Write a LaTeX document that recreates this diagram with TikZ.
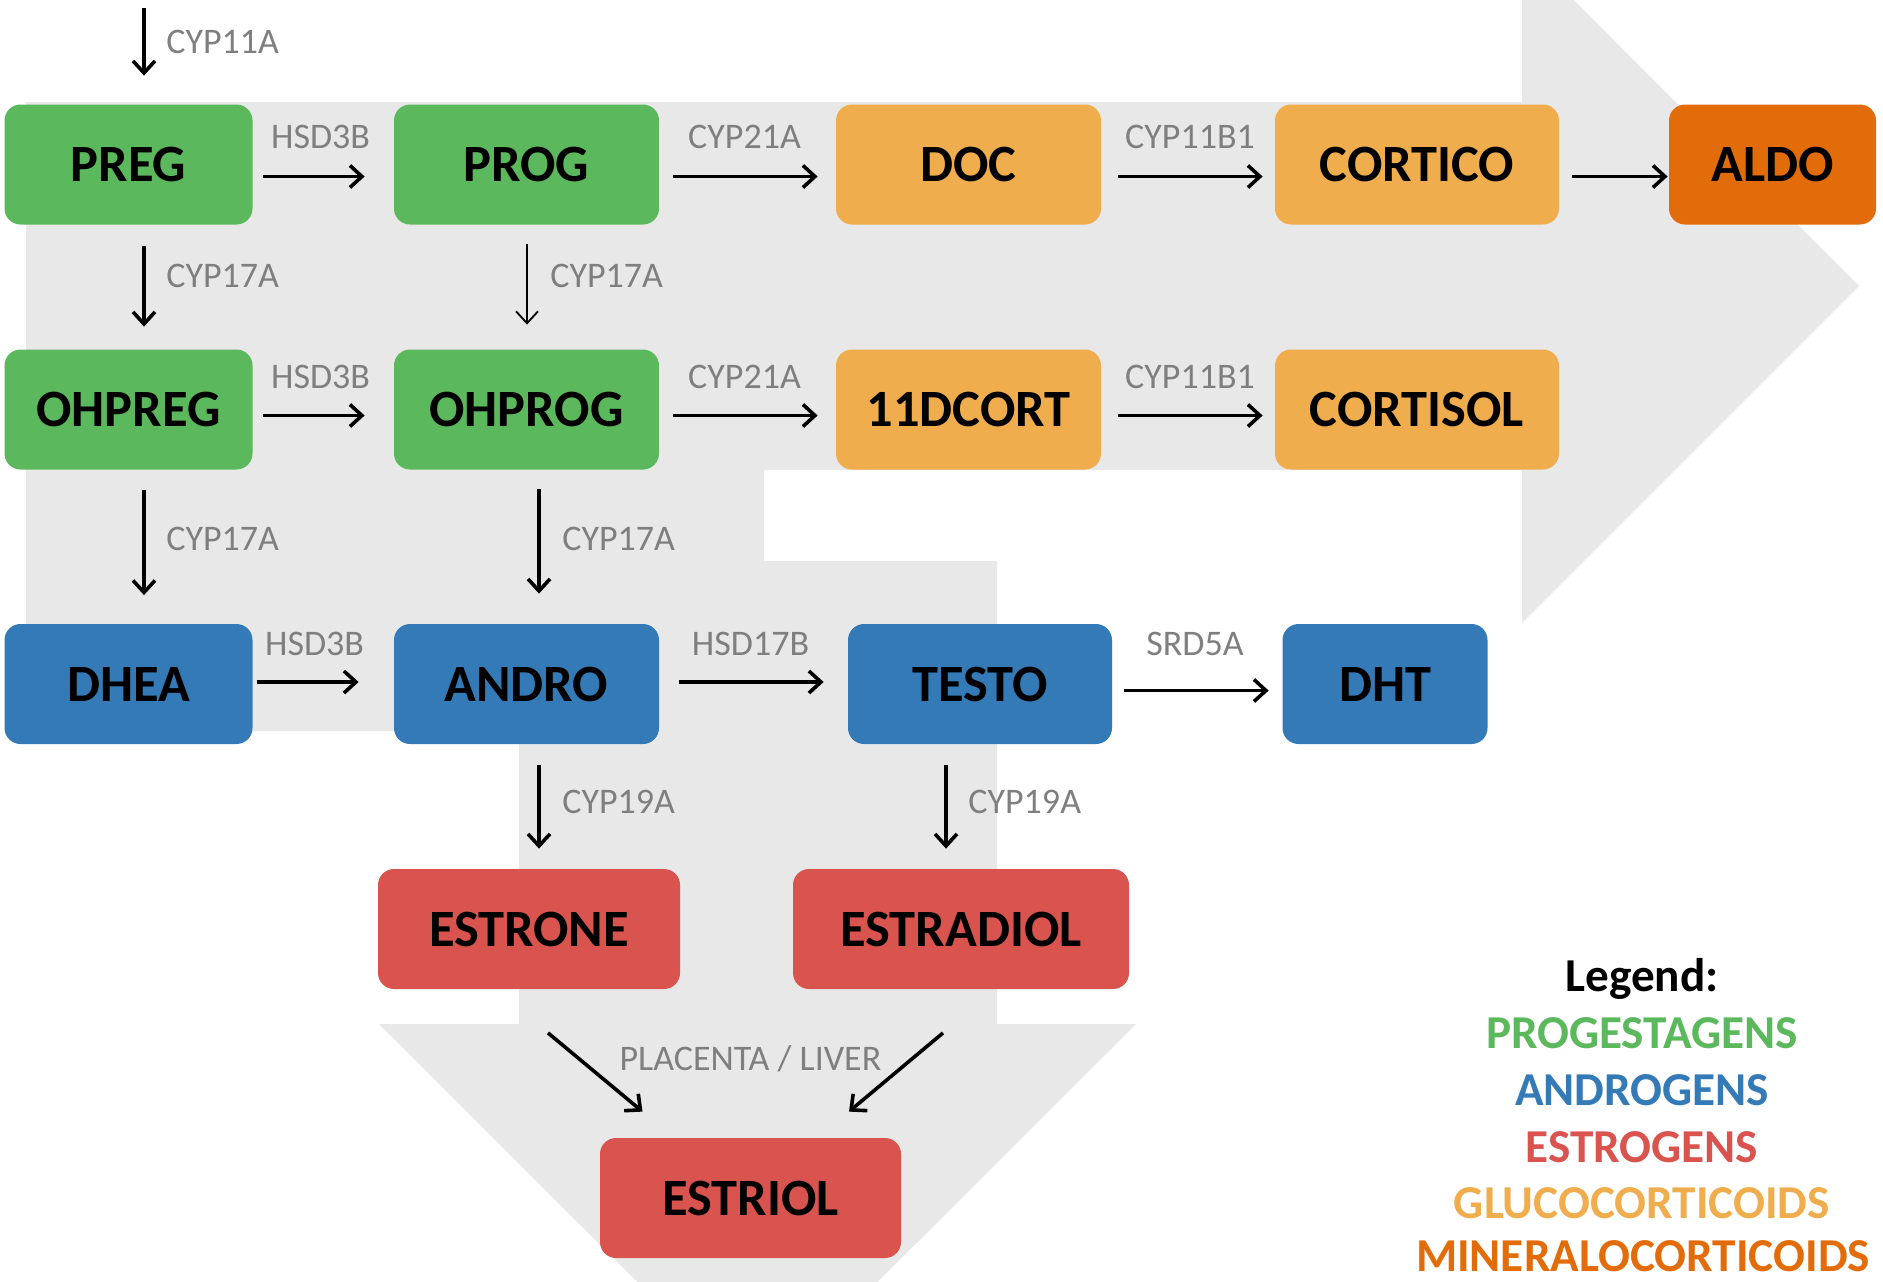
\documentclass[tikz,border=0pt]{standalone}
\usepackage{fontspec}
\setmainfont{Carlito}
\usetikzlibrary{arrows.meta}
\definecolor{cgreen}{HTML}{5CB85C}
\definecolor{cblue}{HTML}{337AB7}
\definecolor{cred}{HTML}{D9534F}
\definecolor{corange}{HTML}{F0AD4E}
\definecolor{cdark}{HTML}{E36C0A}
\definecolor{cgray}{HTML}{E8E8E8}
\definecolor{ctext}{HTML}{7F7F7F}
\begin{document}
\begin{tikzpicture}[x=0.5pt,y=-0.5pt,
  box/.style={rounded corners=8pt, minimum height=60pt, inner sep=0pt,
    font=\fontsize{26.2}{28}\selectfont\bfseries, text=black},
  enz/.style={inner sep=0pt, text=ctext, font=\fontsize{18}{20}\selectfont},
  leg/.style={inner sep=0pt, anchor=base, font=\fontsize{23.6}{25}\selectfont\bfseries},
  arr/.style={line width=1.8pt, -{Straight Barb[length=6pt,width=11pt]}},
  thinarr/.style={line width=0.9pt, -{Straight Barb[length=6pt,width=11pt]}}]
\useasboundingbox (0,0) rectangle (1883,1281);
\begin{scope}
\clip (0,0) rectangle (1883,1281);
\fill[cgray] (26,102) -- (1522,102) -- (1522,-52) -- (1859,286) -- (1522,623)
  -- (1522,470) -- (764,470) -- (764,561) -- (997,561) -- (997,1024)
  -- (1136,1024) -- (757.5,1402) -- (379,1024) -- (519,1024) -- (519,731)
  -- (26,731) -- cycle;
\end{scope}

% row 1
\node[box, fill=cgreen, minimum width=124pt] (PREG) at (128.5,164.5) {PREG};
\node[box, fill=cgreen, minimum width=132.5pt] (PROG) at (526.5,164.5) {PROG};
\node[box, fill=corange, minimum width=132.5pt] (DOC) at (968.5,164.5) {DOC};
\node[box, fill=corange, minimum width=142pt] (CORTICO) at (1417,164.5) {CORTICO};
\node[box, fill=cdark, minimum width=103.5pt] (ALDO) at (1772.5,164.5) {ALDO};
% row 2
\node[box, fill=cgreen, minimum width=124pt] (OHPREG) at (128.5,409.5) {OHPREG};
\node[box, fill=cgreen, minimum width=132.5pt] (OHPROG) at (526.5,409.5) {OHPROG};
\node[box, fill=corange, minimum width=132.5pt] (DCORT) at (968.5,409.5) {11DCORT};
\node[box, fill=corange, minimum width=142pt] (CORTISOL) at (1417,409.5) {CORTISOL};
% row 3
\node[box, fill=cblue, minimum width=124pt] (DHEA) at (128.5,684) {DHEA};
\node[box, fill=cblue, minimum width=132.5pt] (ANDRO) at (526.5,684) {ANDRO};
\node[box, fill=cblue, minimum width=132pt] (TESTO) at (980,684) {TESTO};
\node[box, fill=cblue, minimum width=102.5pt] (DHT) at (1385,684) {DHT};
% row 4
\node[box, fill=cred, minimum width=151pt] (ESTRONE) at (529,929) {ESTRONE};
\node[box, fill=cred, minimum width=168pt] (ESTRADIOL) at (961,929) {ESTRADIOL};
% row 5
\node[box, fill=cred, minimum width=150.5pt] (ESTRIOL) at (750.5,1198) {ESTRIOL};

% horizontal arrows
\draw[arr] ([shift={(10,12)}]PREG.east) -- ([shift={(-29,12)}]PROG.west);
\draw[arr] ([shift={(13.5,12)}]PROG.east) -- ([shift={(-18,12)}]DOC.west);
\draw[arr] ([shift={(17,12)}]DOC.east) -- ([shift={(-12,12)}]CORTICO.west);
\draw[arr] ([shift={(13,12)}]CORTICO.east) -- ([shift={(-1,12)}]ALDO.west);
\draw[arr] ([shift={(10,6)}]OHPREG.east) -- ([shift={(-29,6)}]OHPROG.west);
\draw[arr] ([shift={(13.5,6)}]OHPROG.east) -- ([shift={(-18,6)}]DCORT.west);
\draw[arr] ([shift={(17,6)}]DCORT.east) -- ([shift={(-12,6)}]CORTISOL.west);
\draw[arr] ([shift={(4,-2)}]DHEA.east) -- ([shift={(-35,-2)}]ANDRO.west);
\draw[arr] ([shift={(19.5,-2)}]ANDRO.east) -- ([shift={(-24,-2)}]TESTO.west);
\draw[arr] ([shift={(12,6.5)}]TESTO.east) -- ([shift={(-13.5,6.5)}]DHT.west);

% vertical arrows
\coordinate (start) at (144,8);
\draw[arr] (start) -- ([shift={(15.5,-28.5)}]PREG.north);
\draw[arr] ([shift={(15.5,21)}]PREG.south) -- ([shift={(15.5,-22.5)}]OHPREG.north);
\draw[thinarr] ([shift={(0.5,19.5)}]PROG.south) -- ([shift={(0.5,-24.5)}]OHPROG.north);
\draw[arr] ([shift={(15.5,20)}]OHPREG.south) -- ([shift={(15.5,-28.5)}]DHEA.north);
\draw[arr] ([shift={(12.5,19.5)}]OHPROG.south) -- ([shift={(12.5,-30)}]ANDRO.north);
\draw[arr] ([shift={(12.5,20.5)}]ANDRO.south) -- ([shift={(10,-20)}]ESTRONE.north);
\draw[arr] ([shift={(-34,20.5)}]TESTO.south) -- ([shift={(-15,-20)}]ESTRADIOL.north);
\draw[arr] ([shift={(19,43.5)}]ESTRONE.south) -- ([shift={(-108,-26)}]ESTRIOL.north);
\draw[arr] ([shift={(-18,43.5)}]ESTRADIOL.south) -- ([shift={(98.5,-26)}]ESTRIOL.north);

% enzyme labels
\node[enz, anchor=west] (l11a) at (166,42) {CYP11A};
\node[enz, anchor=west] (l17a1) at (166,276) {CYP17A};
\node[enz, anchor=west] (l17a2) at (550,276) {CYP17A};
\node[enz, anchor=west] (l17a3) at (166,539) {CYP17A};
\node[enz, anchor=west] (l17a4) at (562,539) {CYP17A};
\node[enz, anchor=west] (l19a1) at (562,802) {CYP19A};
\node[enz, anchor=west] (l19a2) at (968,802) {CYP19A};
\node[enz] (h1) at (320.6,137) {HSD3B};
\node[enz] (c21a1) at (744.5,137) {CYP21A};
\node[enz] (c11b1) at (1190,137) {CYP11B1};
\node[enz] (h2) at (320.6,377) {HSD3B};
\node[enz] (c21a2) at (744.5,377) {CYP21A};
\node[enz] (c11b2) at (1190,377) {CYP11B1};
\node[enz] (h3) at (314.6,643.6) {HSD3B};
\node[enz] (h17) at (750.5,643.6) {HSD17B};
\node[enz] (srd) at (1195,643.6) {SRD5A};
\node[enz] (pl) at (750.5,1059) {PLACENTA / LIVER};

% legend
\node[leg, text=black] (lg0) at (1642,991) {Legend:};
\node[leg, text=cgreen] (lg1) at (1642,1048) {PROGESTAGENS};
\node[leg, text=cblue] (lg2) at (1642,1105) {ANDROGENS};
\node[leg, text=cred] (lg3) at (1642,1162) {ESTROGENS};
\node[leg, text=corange] (lg4) at (1642,1218) {GLUCOCORTICOIDS};
\node[leg, text=cdark] (lg5) at (1643,1271) {MINERALOCORTICOIDS};
\end{tikzpicture}
\end{document}
